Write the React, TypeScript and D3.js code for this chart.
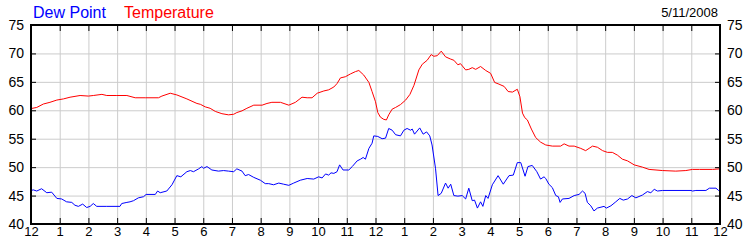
import React from "react";
import * as d3 from "d3";

// hour of day (0..24), value in °F
const tempHours = [0, 0.2, 0.43, 0.66, 0.9, 1.13, 1.36, 1.71, 2.0, 2.17, 2.47, 2.64, 2.99, 3.34, 3.63, 3.98, 4.44, 4.56, 4.85, 5.08, 5.43, 5.78, 5.9,
  6.07, 6.24, 6.42, 6.65, 6.88, 7.06, 7.17, 7.35, 7.52, 7.76, 8.05, 8.22, 8.39, 8.69, 8.98, 9.21, 9.44, 9.62, 9.79, 9.97, 10.2, 10.37, 10.55, 10.66, 10.78, 10.95, 11.13, 11.3, 11.42, 11.59, 11.77, 11.88,
  12.0, 12.08, 12.17, 12.29, 12.38, 12.46, 12.58, 12.7, 12.87, 13.05, 13.2, 13.34, 13.51, 13.63, 13.8, 13.94, 14.03, 14.15, 14.29, 14.44, 14.62, 14.73, 14.87, 14.96, 15.14, 15.25, 15.37, 15.49, 15.66, 15.84, 16.01, 16.15, 16.3, 16.48, 16.62, 16.77, 16.94, 17.03, 17.12, 17.2, 17.29, 17.43, 17.58, 17.75, 17.93,
  18.16, 18.45, 18.57, 18.74, 18.92, 19.15, 19.32, 19.44, 19.56, 19.73, 19.91, 20.08, 20.25, 20.43, 20.6, 20.78, 21.01, 21.3, 21.53, 22.0, 22.46, 22.81, 23.04, 23.28, 23.74, 24.0];
const tempValues = [60.3, 60.5, 61.1, 61.4, 61.8, 62.0, 62.3, 62.6, 62.5, 62.6, 62.8, 62.6, 62.6, 62.6, 62.2, 62.2, 62.2, 62.5, 63.0, 62.7, 62.0, 61.2, 61.05,
  60.6, 60.35, 59.8, 59.4, 59.2, 59.3, 59.6, 59.9, 60.35, 60.9, 60.9, 61.2, 61.4, 61.4, 60.9, 61.4, 62.3, 62.2, 62.2, 63.0, 63.4, 63.6, 64.1, 64.7, 65.7, 65.9, 66.4, 66.8, 67.0, 66.2, 64.9, 63.3,
  61.5, 59.6, 58.8, 58.4, 58.3, 59.2, 60.2, 60.5, 61.0, 61.8, 62.8, 64.4, 67.1, 68.1, 68.8, 69.8, 69.5, 69.6, 70.4, 69.4, 69.0, 68.8, 68.0, 68.2, 67.1, 67.2, 67.5, 67.2, 67.7, 67.0, 66.5, 64.9, 64.6, 64.2, 63.3, 63.2, 63.7, 62.4, 59.5, 58.7, 58.3, 56.7, 55.2, 54.4, 53.9,
  53.7, 53.7, 54.1, 53.7, 53.7, 53.3, 52.9, 53.3, 53.7, 53.5, 52.9, 52.6, 52.6, 52.1, 51.4, 51.1, 50.4, 50.0, 49.6, 49.4, 49.3, 49.4, 49.6, 49.6, 49.6, 49.7];

const dewHours = [0, 0.08, 0.2, 0.37, 0.55, 0.72, 0.9, 1.07, 1.24, 1.42, 1.53, 1.65, 1.8, 1.94, 2.06, 2.17, 2.29, 2.64, 3.1, 3.16, 3.34, 3.45, 3.57, 3.74, 3.92, 4.01, 4.33, 4.41, 4.5, 4.73, 4.91, 5.08, 5.22, 5.43, 5.55, 5.66, 5.84, 5.95,
  6.01, 6.13, 6.3, 6.53, 6.71, 6.88, 7.06, 7.17, 7.35, 7.46, 7.58, 7.76, 7.99, 8.16, 8.28, 8.45, 8.63, 8.8, 8.98, 9.15, 9.38, 9.62, 9.85, 10.02, 10.14, 10.26, 10.37, 10.45, 10.55, 10.66, 10.75, 10.87, 11.07, 11.19, 11.36, 11.48, 11.57, 11.65, 11.77, 11.88,
  11.94, 12.08, 12.23, 12.35, 12.46, 12.58, 12.7, 12.87, 12.99, 13.1, 13.22, 13.28, 13.36, 13.54, 13.66, 13.78, 13.89, 13.97, 14.09, 14.18, 14.29, 14.44, 14.53, 14.62, 14.73, 14.87, 15.02, 15.14, 15.25, 15.37, 15.45, 15.55, 15.66, 15.74, 15.84, 15.92, 16.07, 16.27, 16.45, 16.65, 16.8, 16.94, 17.06, 17.21, 17.31, 17.46, 17.62, 17.75, 17.87,
  17.93, 18.04, 18.16, 18.28, 18.37, 18.43, 18.51, 18.74, 18.92, 19.09, 19.21, 19.3, 19.38, 19.5, 19.61, 19.73, 19.96, 20.04, 20.2, 20.37, 20.51, 20.63, 20.78, 20.93, 21.07, 21.3, 21.47, 21.59, 21.71, 21.82, 22.0, 22.99, 23.04, 23.16, 23.51, 23.63, 23.86, 23.95, 24.0];
const dewValues = [45.9, 46.0, 45.8, 46.2, 45.5, 45.6, 44.5, 44.4, 43.9, 43.8, 43.3, 43.1, 43.5, 42.9, 43.1, 43.6, 43.1, 43.1, 43.1, 43.6, 43.8, 43.9, 44.1, 44.6, 44.8, 45.2, 45.2, 45.8, 45.5, 45.8, 46.9, 48.5, 48.3, 49.2, 49.4, 49.2, 49.7, 50.1,
  49.8, 50.1, 49.5, 49.3, 49.4, 49.3, 49.2, 49.7, 49.3, 48.5, 48.7, 48.2, 47.7, 47.1, 47.1, 46.9, 47.2, 47.0, 46.8, 47.2, 47.7, 48.0, 47.9, 48.3, 48.1, 48.8, 48.6, 49.0, 48.9, 49.2, 50.4, 49.5, 49.5, 50.1, 51.1, 51.4, 51.7, 51.4, 53.3, 54.2,
  55.5, 55.4, 55.0, 55.1, 56.8, 56.5, 55.7, 55.5, 56.5, 56.8, 56.5, 56.7, 55.8, 56.9, 55.8, 56.2, 55.5, 53.9, 49.8, 45.0, 45.4, 47.2, 46.3, 47.0, 45.0, 44.9, 45.0, 44.4, 46.3, 44.1, 44.2, 42.8, 43.9, 43.1, 45.0, 44.5, 46.9, 48.5, 47.0, 48.5, 48.6, 50.8, 50.8, 48.4, 50.1, 50.3, 49.2, 47.9, 48.3,
  48.0, 47.0, 46.4, 45.0, 44.8, 43.8, 44.4, 44.5, 45.0, 45.2, 45.8, 45.4, 43.8, 43.2, 42.3, 42.8, 43.1, 42.8, 43.2, 43.9, 44.5, 44.2, 44.4, 45.0, 44.6, 45.1, 45.7, 45.5, 46.1, 45.8, 45.9, 45.9, 45.8, 45.9, 45.9, 46.3, 46.3, 45.9, 45.9];

const hourTicks = d3.range(0, 25);
const hourLabels = ["12", "1", "2", "3", "4", "5", "6", "7", "8", "9", "10", "11", "12", "1", "2", "3", "4", "5", "6", "7", "8", "9", "10", "11", "12"];
const yTicks = [40, 45, 50, 55, 60, 65, 70, 75];
const dateLabel = "5/11/2008";
const legendLabels = ["Dew Point", "Temperature"];

const W = 750, H = 250;
const L = 31, R = 720, T = 25, B = 224;
const FONT = "'Liberation Sans', Arial, sans-serif";

export default function App() {
  const x = d3.scaleLinear().domain([0, 24]).range([L, R]);
  const y = d3.scaleLinear().domain([40, 75]).range([B, T]);
  const line = d3.line<[number, number]>().x(d => x(d[0])).y(d => y(d[1]));
  const temp = tempHours.map((h, i) => [h, tempValues[i]] as [number, number]);
  const dew = dewHours.map((h, i) => [h, dewValues[i]] as [number, number]);
  return (
    <svg width={W} height={H} style={{ position: "absolute", left: 0, top: 0, background: "#fff" }} fontFamily={FONT}>
      <rect x={0} y={0} width={W} height={H} fill="#fff" />
      {hourTicks.slice(1, -1).map(h => (
        <line key={"gx" + h} x1={x(h) + 0.5} x2={x(h) + 0.5} y1={T} y2={B} stroke="#cccccc" strokeWidth={1} />
      ))}
      {yTicks.slice(1, -1).map(v => (
        <line key={"gy" + v} x1={L} x2={R} y1={y(v) + 0.5} y2={y(v) + 0.5} stroke="#cccccc" strokeWidth={1} />
      ))}
      <path d={line(dew) || ""} fill="none" stroke="#0000ff" strokeWidth={1} />
      <path d={line(temp) || ""} fill="none" stroke="#ff0000" strokeWidth={1} />
      {hourTicks.map(h => (
        <g key={"tx" + h}>
          <line x1={x(h) + 0.5} x2={x(h) + 0.5} y1={T} y2={T + 6} stroke="#000" />
          <line x1={x(h) + 0.5} x2={x(h) + 0.5} y1={B} y2={B - 6} stroke="#000" />
        </g>
      ))}
      {yTicks.map(v => (
        <g key={"ty" + v}>
          <line x1={L} x2={L + 5} y1={y(v) + 0.5} y2={y(v) + 0.5} stroke="#000" />
          <line x1={R} x2={R - 5} y1={y(v) + 0.5} y2={y(v) + 0.5} stroke="#000" />
        </g>
      ))}
      <rect x={L} y={T} width={R - L} height={B - T} fill="none" stroke="#000" strokeWidth={2} />
      {yTicks.map(v => (
        <g key={"ly" + v} fontSize={14} fill="#000">
          <text x={24} y={y(v) + 5} textAnchor="end">{v}</text>
          <text x={727} y={y(v) + 5} textAnchor="start">{v}</text>
        </g>
      ))}
      {hourTicks.map((h, i) => (
        <text key={"lx" + h} x={x(h) + 0.5} y={236} fontSize={13} textAnchor="middle" fill="#000">{hourLabels[i]}</text>
      ))}
      <text x={33} y={18} fontSize={16} fill="#0000ff">{legendLabels[0]}</text>
      <text x={124} y={18} fontSize={16} fill="#ff0000">{legendLabels[1]}</text>
      <text x={718} y={17} fontSize={13} textAnchor="end" fill="#000">{dateLabel}</text>
    </svg>
  );
}
